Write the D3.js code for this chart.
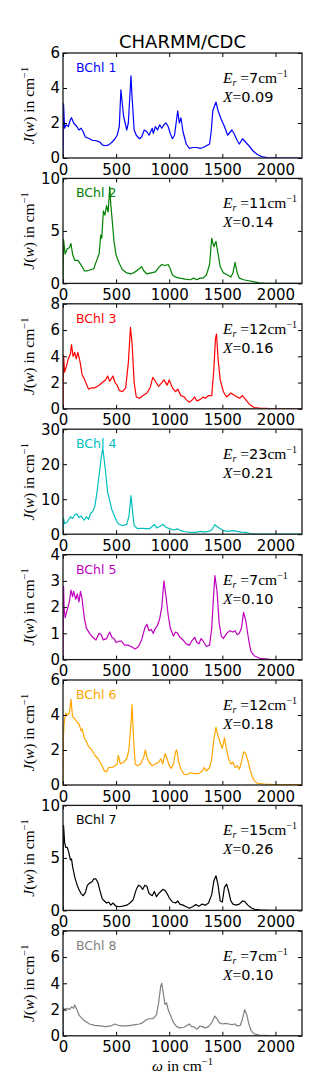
<!DOCTYPE html>
<html>
<head>
<meta charset="utf-8">
<script src="https://cdn.jsdelivr.net/npm/d3@7"></script>
<style>
body { margin: 0; background: #fff; }
svg { display: block; }
</style>
</head>
<body>
<div class="container"></div>
<script>
// Spectral densities J(w), one pair of arrays per BChl
const w1 = [0,5,15,30,50,70,80,100,130,150,170,190,210,250,280,300,330,350,370,400,430,460,490,510,530,545,570,600,615,640,650,670,690,720,740,765,790,810,840,850,870,890,910,930,950,970,990,1010,1030,1050,1080,1095,1110,1130,1160,1190,1220,1260,1290,1320,1350,1380,1395,1410,1440,1460,1490,1520,1550,1590,1610,1640,1660,1690,1720,1750,1790,1830,1870,1920,2000,2250];
const j1 = [0,3.1,1.7,1.9,1.8,2.2,2.3,2.0,1.8,1.6,1.7,1.5,1.2,1.1,1.0,1.0,0.95,0.9,0.75,0.7,0.75,0.9,1.1,1.3,1.8,3.9,2.4,1.6,2.0,4.7,3.5,1.6,1.3,1.1,1.2,1.6,1.5,1.3,1.7,1.4,1.8,1.6,1.9,1.7,1.9,2.0,1.8,1.4,1.1,1.3,2.7,2.0,2.3,1.5,0.8,0.55,0.6,0.6,0.55,0.6,0.7,0.8,1.5,2.7,3.2,2.7,2.2,1.8,1.3,1.6,1.4,1.0,0.8,1.1,0.9,0.7,0.4,0.2,0.08,0.03,0.01,0];

const w2 = [0,5,20,40,60,75,90,110,140,160,180,200,230,260,290,310,340,355,365,380,395,410,425,440,450,465,480,500,530,560,600,640,680,720,740,760,790,830,870,900,930,960,990,1010,1030,1060,1100,1150,1200,1230,1260,1290,1320,1350,1380,1400,1420,1440,1460,1480,1510,1550,1580,1600,1620,1640,1660,1700,1750,1800,1850,1900,2000,2250];
const j2 = [0,4.2,2.8,3.3,3.4,3.8,2.8,2.2,2.2,1.9,1.6,1.2,1.2,1.3,1.4,2.0,2.8,4.6,4.3,6.9,6.5,7.4,6.8,9.2,7.5,5.8,4.0,2.7,1.9,1.3,1.0,0.9,1.1,1.4,1.6,1.2,0.9,1.0,1.1,1.5,1.8,1.7,1.8,1.4,0.8,0.6,0.5,0.4,0.35,0.5,0.35,0.5,0.5,0.8,1.8,4.3,3.5,4.0,2.8,1.6,1.0,0.8,0.6,1.0,2.0,1.0,0.5,0.35,0.25,0.15,0.05,0.02,0,0];

const w3 = [0,5,15,30,50,70,80,95,110,125,140,160,180,200,220,240,270,300,340,370,400,420,440,470,490,510,530,560,590,615,635,650,670,690,720,750,790,820,845,870,900,930,950,980,1000,1030,1060,1080,1110,1140,1160,1190,1220,1240,1260,1290,1320,1340,1370,1400,1420,1435,1445,1460,1480,1510,1540,1580,1620,1660,1690,1720,1760,1800,1850,1950,2250];
const j3 = [0,4.1,2.8,3.2,3.8,4.2,4.9,4.0,4.3,3.8,4.3,3.6,2.6,2.3,1.9,1.5,1.6,1.6,1.8,2.0,2.2,2.5,2.1,2.5,2.0,1.8,1.4,1.3,1.6,3.5,6.2,5.0,2.0,0.9,0.8,1.0,1.2,1.6,2.4,2.1,1.7,2.0,2.2,1.8,2.2,1.6,1.3,1.5,1.0,0.9,0.7,0.5,0.7,0.9,0.6,0.7,0.9,0.8,1.0,1.0,3.0,5.3,5.7,3.8,2.2,1.3,0.9,1.2,1.0,0.8,1.0,0.7,0.3,0.1,0.05,0.02,0];

const w4 = [0,5,15,40,70,90,110,130,150,170,200,220,240,260,280,300,320,340,360,375,385,400,420,440,460,480,500,520,560,600,620,640,655,670,700,740,780,810,840,860,880,910,940,970,1000,1040,1080,1110,1150,1200,1250,1300,1330,1370,1400,1430,1460,1500,1540,1570,1600,1640,1680,1720,1760,1800,1900,2250];
const j4 = [0,4.5,3.0,3.5,5.0,4.5,5.5,5.8,4.8,5.2,4.0,5.0,4.2,6.0,6.5,8.0,12,17,22,24.5,22,18,12,9.5,7.0,5.5,4.0,3.0,2.4,2.8,5.0,11.0,6.5,2.5,1.6,1.7,1.6,1.5,2.2,2.8,1.8,2.2,2.8,2.0,1.6,1.2,1.5,1.0,0.7,0.5,0.5,0.8,0.6,0.8,1.2,2.7,2.0,1.2,0.8,0.9,1.0,0.8,0.6,0.5,0.2,0.1,0.03,0];

const w5 = [0,5,10,20,40,60,75,90,100,120,135,150,165,180,200,220,250,280,310,340,360,380,410,440,460,480,500,530,550,580,610,640,680,710,740,770,790,810,830,850,870,890,910,930,950,970,990,1010,1040,1060,1080,1100,1130,1160,1190,1210,1240,1260,1280,1300,1320,1350,1380,1400,1420,1430,1450,1470,1490,1510,1540,1570,1600,1620,1640,1660,1680,1700,1720,1750,1770,1800,1850,1950,2250];
const j5 = [0,2.8,2.0,1.6,1.9,2.2,2.65,2.4,2.6,2.3,2.5,2.2,2.6,2.3,1.6,1.2,1.0,0.85,0.75,1.0,0.95,0.75,0.8,1.05,0.85,0.8,0.65,0.7,0.7,0.55,0.55,0.5,0.4,0.5,0.75,1.2,1.35,1.1,1.15,1.0,1.2,1.3,1.55,2.0,3.0,2.4,1.7,1.2,0.9,1.05,1.0,0.85,0.75,0.6,0.55,0.7,0.85,0.65,0.6,0.8,0.7,0.5,0.55,1.2,2.6,3.2,2.6,1.4,0.9,0.8,1.0,1.1,1.05,1.1,0.95,1.0,1.2,1.8,1.5,0.7,0.3,0.15,0.05,0.01,0];

const w6 = [0,3,10,25,40,60,75,90,110,130,150,170,180,200,220,240,260,280,300,330,360,390,410,430,460,490,510,520,540,570,600,620,640,650,665,680,700,730,760,775,790,810,840,870,900,920,940,960,980,1000,1020,1040,1060,1070,1090,1110,1140,1170,1200,1240,1280,1310,1330,1350,1380,1400,1420,1440,1460,1480,1500,1520,1540,1560,1580,1600,1620,1640,1660,1680,1700,1720,1740,1760,1780,1800,1830,1900,2000,2250];
const j6 = [0,2.6,3.5,4.1,4.0,4.1,4.9,3.9,3.8,3.6,3.5,3.1,3.2,2.7,2.5,2.2,2.1,1.9,1.7,1.5,1.2,0.8,0.75,1.0,1.0,1.1,1.2,1.7,1.2,1.3,1.5,2.0,3.5,4.6,2.5,1.2,1.1,1.2,1.6,2.0,1.6,1.3,1.1,1.2,1.3,1.5,1.2,1.8,1.5,1.1,0.95,1.2,1.9,2.0,1.3,0.9,0.6,0.6,0.7,0.65,0.65,0.8,1.0,0.8,1.0,1.5,2.6,3.3,2.8,2.4,2.1,2.7,2.0,1.5,1.2,1.3,1.0,1.1,0.9,1.3,1.9,1.8,1.4,0.9,0.5,0.25,0.1,0.05,0.03,0.02];

const w7 = [0,5,15,25,40,55,70,80,90,110,130,150,170,190,210,230,250,270,290,310,330,350,370,390,410,430,450,470,500,530,560,600,630,660,690,710,730,750,770,790,810,840,860,880,900,920,940,960,980,1000,1030,1060,1080,1100,1130,1160,1190,1220,1250,1280,1310,1340,1370,1400,1420,1440,1460,1480,1500,1520,1540,1560,1580,1600,1630,1660,1690,1710,1740,1770,1800,1850,1950,2250];
const j7 = [0,8.1,6.5,6.0,6.0,5.5,4.8,4.9,4.2,3.2,2.5,2.0,1.6,1.4,1.7,2.4,2.6,2.7,3.0,3.0,2.6,1.8,1.1,0.9,0.7,0.8,0.5,0.7,0.4,0.35,0.4,0.5,0.7,1.0,2.0,2.4,2.3,2.0,2.4,2.3,1.6,1.4,1.8,1.3,1.6,1.8,2.0,1.9,1.6,1.2,0.8,0.7,0.9,0.6,0.5,0.35,0.2,0.35,0.55,0.4,0.6,0.5,0.7,1.5,2.8,3.3,2.4,0.9,0.8,2.2,2.5,1.8,0.9,0.6,0.5,0.6,0.9,0.85,0.5,0.25,0.12,0.05,0.01,0];

const w8 = [0,5,15,40,60,80,100,110,130,150,180,210,250,300,350,400,450,490,520,560,600,640,680,720,750,780,810,840,860,880,900,920,930,945,960,975,990,1010,1040,1070,1100,1140,1170,1190,1210,1230,1260,1290,1310,1340,1370,1400,1430,1450,1470,1500,1530,1560,1590,1620,1640,1670,1690,1710,1730,1750,1770,1800,1850,1950,2250];
const j8 = [0,2.1,2.0,2.1,2.0,2.2,2.1,2.35,2.0,1.6,1.3,1.1,0.9,0.8,0.75,0.7,0.75,0.9,0.8,0.75,0.75,0.8,0.85,0.9,1.0,1.2,1.3,1.3,1.4,1.6,2.5,3.8,4.0,3.2,2.4,2.5,2.0,1.6,1.0,0.7,0.6,0.65,0.8,0.9,0.7,0.7,0.5,0.75,0.7,0.6,0.7,1.0,1.5,1.3,1.0,0.9,0.95,0.9,0.85,0.9,0.75,0.8,1.3,2.0,1.6,0.9,0.4,0.15,0.05,0.01,0];

const names = ['BChl 1','BChl 2','BChl 3','BChl 4','BChl 5','BChl 6','BChl 7','BChl 8'];
const colors = ['#0000ff','#008000','#ff0000','#00bfbf','#bf00bf','#ffa500','#000000','#808080'];
const energies = ['7','11','12','23','7','12','15','7'];
const xLabels = ['0.09','0.14','0.16','0.21','0.10','0.18','0.26','0.10'];
const yMax = [6,10,8,30,4,6,10,8];
const yTickVals = [[0,2,4,6],[0,5,10],[0,2,4,6,8],[0,10,20,30],[0,1,2,3,4],[0,2,4,6],[0,5,10],[0,2,4,6,8]];
const xTickVals = [0,500,1000,1500,2000];

const wArr = [w1,w2,w3,w4,w5,w6,w7,w8];
const jArr = [j1,j2,j3,j4,j5,j6,j7,j8];
wArr.forEach((w, i) => {
    if (w.length !== jArr[i].length) throw new Error('length mismatch in panel ' + (i+1) + ': ' + w.length + ' vs ' + jArr[i].length);
});

const W = 318, H = 1090;
const left = 63, plotW = 239, plotH = 105, top0 = 53, step = 125.4;
const sans = '"DejaVu Sans", sans-serif';
const serif = '"Liberation Serif", "DejaVu Serif", serif';
const intFmt = d3.format('d');

let svg = d3.select('.container')
    .append('svg')
    .attr('width', W)
    .attr('height', H);

let xScale = d3.scaleLinear().domain([0, 2250]).range([0, plotW]);

// Title
svg.append('text')
    .attr('x', left + plotW/2)
    .attr('y', 48)
    .attr('text-anchor', 'middle')
    .style('font-family', sans)
    .style('font-size', '18px')
    .text('CHARMM/CDC');

for (let i = 0; i < 8; i++) {
    let top = top0 + i*step;
    let yScale = d3.scaleLinear().domain([0, yMax[i]]).range([plotH, 0]);
    let g = svg.append('g').attr('transform', 'translate(' + left + ',' + top + ')');

    g.append('clipPath').attr('id', 'clip' + i)
        .append('rect').attr('width', plotW).attr('height', plotH);

    let pts = d3.zip(wArr[i], jArr[i]);
    let line = d3.line().x(d => xScale(d[0])).y(d => yScale(d[1]));
    g.append('path')
        .datum(pts)
        .attr('clip-path', 'url(#clip' + i + ')')
        .attr('fill', 'none')
        .attr('stroke', colors[i])
        .attr('stroke-width', 1.2)
        .attr('stroke-linejoin', 'round')
        .attr('d', line);

    // axes, ticks inward on all four sides
    let bottomAxis = d3.axisBottom(xScale).tickValues(xTickVals).tickFormat(intFmt).tickSizeInner(-4).tickSizeOuter(0).tickPadding(6);
    let topAxis = d3.axisTop(xScale).tickValues(xTickVals).tickSizeInner(-4).tickSizeOuter(0).tickFormat('');
    let leftAxis = d3.axisLeft(yScale).tickValues(yTickVals[i]).tickFormat(intFmt).tickSizeInner(-4).tickSizeOuter(0).tickPadding(3);
    let rightAxis = d3.axisRight(yScale).tickValues(yTickVals[i]).tickSizeInner(-4).tickSizeOuter(0).tickFormat('');

    let axes = [
        g.append('g').attr('transform', 'translate(0,' + plotH + ')').call(bottomAxis),
        g.append('g').call(topAxis),
        g.append('g').call(leftAxis),
        g.append('g').attr('transform', 'translate(' + plotW + ',0)').call(rightAxis)
    ];
    axes.forEach(a => {
        a.select('.domain').remove();
        a.selectAll('line').attr('stroke', '#000').attr('stroke-width', 1);
        a.selectAll('text')
            .attr('fill', '#000')
            .style('font-family', sans)
            .style('font-size', '15px');
    });

    // frame
    g.append('rect')
        .attr('width', plotW)
        .attr('height', plotH)
        .attr('fill', 'none')
        .attr('stroke', '#1a1a1a')
        .attr('stroke-width', 1.3);

    // BChl label
    g.append('text')
        .attr('x', 13)
        .attr('y', 19)
        .attr('fill', colors[i])
        .style('font-family', sans)
        .style('font-size', '12.5px')
        .text(names[i]);

    // E_r annotation
    let e = g.append('text')
        .attr('x', 160)
        .attr('y', 30)
        .style('font-family', serif)
        .style('font-size', '15.5px');
    e.append('tspan').style('font-style', 'italic').text('E');
    e.append('tspan').style('font-style', 'italic').style('font-size', '10px').attr('dy', 3).text('r');
    e.append('tspan').attr('dy', -3).text(' =');
    e.append('tspan').style('font-family', sans).style('font-size', '14.5px').text(energies[i]);
    e.append('tspan').text('cm');
    e.append('tspan').style('font-size', '10px').attr('dy', -6).text('\u22121');

    let xl = g.append('text')
        .attr('x', 160)
        .attr('y', 49)
        .style('font-family', serif)
        .style('font-size', '15.5px');
    xl.append('tspan').style('font-style', 'italic').text('X');
    xl.append('tspan').text('=');
    xl.append('tspan').style('font-family', sans).style('font-size', '14.5px').text(xLabels[i]);

    // y label
    let yl = svg.append('text')
        .attr('transform', 'translate(34,' + (top + plotH/2) + ') rotate(-90)')
        .attr('text-anchor', 'middle')
        .style('font-family', serif)
        .style('font-size', '15.5px');
    yl.append('tspan').style('font-style', 'italic').text('J');
    yl.append('tspan').text('(');
    yl.append('tspan').style('font-style', 'italic').text('w');
    yl.append('tspan').text(') in cm');
    yl.append('tspan').style('font-size', '10.5px').attr('dy', -6).text('\u22121');
}

// x label
let xlab = svg.append('text')
    .attr('x', left + plotW/2)
    .attr('y', 1071)
    .attr('text-anchor', 'middle')
    .style('font-family', serif)
    .style('font-size', '15.5px');
xlab.append('tspan').style('font-style', 'italic').text('\u03c9');
xlab.append('tspan').text(' in cm');
xlab.append('tspan').style('font-size', '10.5px').attr('dy', -6).text('\u22121');
</script>
</body>
</html>
